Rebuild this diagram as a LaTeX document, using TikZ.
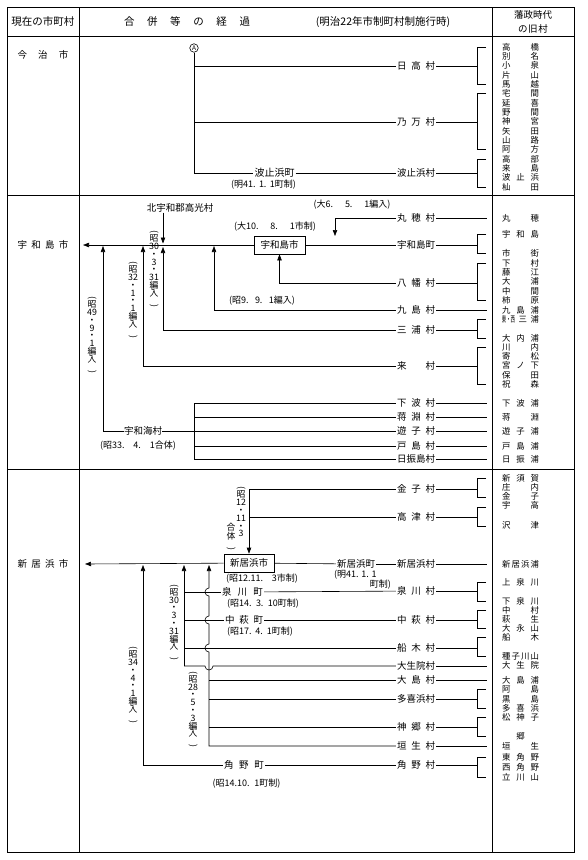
\documentclass[tikz,border=0pt]{standalone}
\usepackage{fontspec}
\setmainfont{Noto Sans CJK JP}
\usepackage{graphicx}
\usetikzlibrary{arrows.meta}
\newcommand{\spreadbox}[2]{\makebox[#1][s]{#2}}
\newcommand{\vop}{\rotatebox{-90}{(}}
\newcommand{\vcl}{\rotatebox{-90}{)}}
\newcommand{\oldrow}[3]{\node[oldv] (#1) at (520.5,#2) {\makebox[37pt][s]{#3}};}
\newcommand{\bracketat}[2]{\draw[ln] (486,#1) -- (477,#1) -- (477,#2) -- (486,#2);}
\tikzset{
  ln/.style={line width=0.6pt},
  frameln/.style={line width=0.8pt},
  arr/.style={ln,-{Triangle[length=6pt,width=4.4pt]}},
  vill/.style={inner sep=0pt, outer sep=1.2pt, font=\fontsize{9.5}{10}\selectfont},
  lab/.style={inner sep=0pt, font=\fontsize{9.5}{10}\selectfont},
  head/.style={inner sep=0pt, font=\fontsize{10.5}{11}\selectfont},
  oldv/.style={inner sep=0pt, font=\fontsize{8.4}{8.4}\selectfont},
  note/.style={inner sep=0pt, font=\fontsize{9}{9}\selectfont},
  vlab/.style={inner sep=0pt, align=center, font=\fontsize{8.8}{7.8}\selectfont},
  cbox/.style={draw, ln, inner sep=0pt, minimum width=51pt, minimum height=18pt, font=\fontsize{9.5}{10}\selectfont},
}
\begin{document}
\begin{tikzpicture}[x=1pt,y=-1pt]
\fill[white] (0,0) rectangle (587,860);
\useasboundingbox (0,0) rectangle (587,860);
% ---------- table frame ----------
\draw[frameln] (7,7) rectangle (574,852);
\draw[frameln] (7,36) -- (574,36);
\draw[frameln] (7,195) -- (574,195);
\draw[frameln] (7,469) -- (574,469);
\draw[frameln] (79,7) -- (79,852);
\draw[frameln] (492,7) -- (492,852);
\coordinate (bx) at (477,0);
\coordinate (sx) at (487,0);
% ---------- header ----------
\node[head] (h1) at (43,22) {現在の市町村};
\node[head] (h2) at (187,22) {\spreadbox{126pt}{合\hfill 併\hfill 等\hfill の\hfill 経\hfill 過}};
\node[head] (h3) at (383,22) {(明治22年市制町村制施行時)};
\node[lab] (h4) at (533,15) {藩政時代};
\node[lab] (h5) at (533,29) {\spreadbox{30pt}{の\hfill 旧\hfill 村}};
% ================= 今治市 =================
\node[lab] (imabari) at (43,55) {\spreadbox{51pt}{今\hfill 治\hfill 市}};
\node[circle,draw,ln,inner sep=0.3pt,minimum size=8.5pt,font=\fontsize{6.5}{6.5}\selectfont] (circA) at (194,48) {A};
\node[vill] (hidaka) at (416,66) {\spreadbox{38pt}{日\hfill 高\hfill 村}};
\node[vill] (noma) at (416,122) {\spreadbox{38pt}{乃\hfill 万\hfill 村}};
\node[vill] (hashimura) at (416,173) {波止浜村};
\node[vill, font=\fontsize{10}{10}\selectfont] (hashicho) at (274.5,173) {波止浜町};
\node[note] (hashinote) at (263.5,185) {\spreadbox{65pt}{(明41.\hfill 1.\hfill 1町制)}};
\coordinate (ta) at (194,66);
\coordinate (tb) at (194,122);
\coordinate (tc) at (194,173);
\draw[ln] (circA) -- (tc);
\draw[ln] (ta) -- (hidaka);
\draw[ln] (tb) -- (noma);
\draw[ln] (tc) -- (hashicho);
\draw[ln] (hashicho) -- (hashimura);
\draw[ln] (hidaka) -- (hidaka -| bx);
\draw[ln] (noma) -- (noma -| bx);
\draw[ln] (hashimura) -- (hashimura -| bx);
\bracketat{47}{84.3}
\bracketat{93.7}{149.7}
\bracketat{159}{187}
\oldrow{oi0}{47}{高\hfill 橋}
\oldrow{oi1}{56.3}{別\hfill 名}
\oldrow{oi2}{65.7}{小\hfill 泉}
\oldrow{oi3}{75}{片\hfill 山}
\oldrow{oi4}{84.3}{馬\hfill 越}
\oldrow{oi5}{93.7}{宅\hfill 間}
\oldrow{oi6}{103}{延\hfill 喜}
\oldrow{oi7}{112.3}{野\hfill 間}
\oldrow{oi8}{121.7}{神\hfill 宮}
\oldrow{oi9}{131}{矢\hfill 田}
\oldrow{oi10}{140.3}{山\hfill 路}
\oldrow{oi11}{149.7}{阿\hfill 方}
\oldrow{oi12}{159}{高\hfill 部}
\oldrow{oi13}{168.3}{来\hfill 島}
\oldrow{oi14}{177.7}{波\hfill 止\hfill 浜}
\oldrow{oi15}{187}{杣\hfill 田}
% ================= 宇和島市 =================
\node[lab] (uwajima) at (43,245) {\spreadbox{51pt}{宇\hfill 和\hfill 島\hfill 市}};
\coordinate (uwaL) at (83,245);
\node[cbox] (uwabox) at (279.5,245) {宇和島市};
\node[note] (uwanote) at (275,227) {\spreadbox{82pt}{(大10.\hfill 8.\hfill 1市制)}};
\draw[arr] (uwabox) -- (uwaL);
\node[vill] (maruho) at (416,218) {\spreadbox{38pt}{丸\hfill 穂\hfill 村}};
\node[vill] (uwacho) at (416,245) {宇和島町};
\node[vill] (yawata) at (416,283) {\spreadbox{38pt}{八\hfill 幡\hfill 村}};
\node[vill] (kushima) at (416,310) {\spreadbox{38pt}{九\hfill 島\hfill 村}};
\node[vill] (miura) at (416,330) {\spreadbox{38pt}{三\hfill 浦\hfill 村}};
\node[vill] (kuru) at (416,366) {\spreadbox{38pt}{来\hfill 村}};
\node[vill] (shitaba) at (416,403) {\spreadbox{38pt}{下\hfill 波\hfill 村}};
\node[vill] (komobuchi) at (416,417) {\spreadbox{38pt}{蒋\hfill 淵\hfill 村}};
\node[vill] (yusu) at (416,431) {\spreadbox{38pt}{遊\hfill 子\hfill 村}};
\node[vill] (toshima) at (416,446) {\spreadbox{38pt}{戸\hfill 島\hfill 村}};
\node[vill] (hiburi) at (416,459) {日振島村};
\node[note] (maruhonote) at (352,205) {\spreadbox{77pt}{(大6.\hfill 5.\hfill 1編入)}};
\coordinate (mh) at (335,236);
\draw[arr] (maruho) -| (mh);
\draw[ln] (uwabox) -- (uwacho);
\draw[arr] (yawata) -| (uwabox.south);
\node[note] (kushimanote) at (262,301) {\spreadbox{66pt}{(昭9.\hfill 9.\hfill 1編入)}};
\coordinate (k9) at (214,246);
\draw[arr] (kushima) -| (k9);
\coordinate (m30) at (163,247);
\draw[arr] (miura) -| (m30);
\node[lab] (takamitsu) at (180,208) {北宇和郡高光村};
\coordinate (tk) at (163,243.5);
\draw[arr] (takamitsu.south -| tk) -- (tk);
\node[vlab] (s30u) at (154,269) {\vop\\昭\\30\\・\\3\\・\\31\\編\\入\\\vcl};
\coordinate (k32) at (143,246);
\draw[arr] (kuru) -| (k32);
\node[vlab] (s32u) at (133,300) {\vop\\昭\\32\\・\\1\\・\\1\\編\\入\\\vcl};
\node[lab] (uwaumi) at (143,431) {宇和海村};
\node[note] (uwauminote) at (138,446) {\spreadbox{76pt}{(昭33.\hfill 4.\hfill 1合体)}};
\coordinate (k49) at (103,246);
\draw[arr] (uwaumi) -| (k49);
\node[vlab] (s49u) at (92,335) {\vop\\昭\\49\\・\\9\\・\\1\\編\\入\\\vcl};
\coordinate (ub1) at (194,403);
\coordinate (ub2) at (194,417);
\coordinate (ub3) at (194,431);
\coordinate (ub4) at (194,446);
\coordinate (ub5) at (194,459);
\draw[ln] (ub1) -- (ub5);
\draw[ln] (uwaumi) -- (ub3);
\draw[ln] (ub1) -- (shitaba);
\draw[ln] (ub2) -- (komobuchi);
\draw[ln] (ub3) -- (yusu);
\draw[ln] (ub4) -- (toshima);
\draw[ln] (ub5) -- (hiburi);
% right side
\draw[ln] (maruho) -- (maruho -| sx);
\draw[ln] (uwacho) -- (uwacho -| bx);
\draw[ln] (yawata) -- (yawata -| bx);
\draw[ln] (kushima) -- (kushima -| sx);
\draw[ln] (miura) -- (miura -| bx);
\draw[ln] (kuru) -- (kuru -| bx);
\draw[ln] (shitaba) -- (shitaba -| sx);
\draw[ln] (komobuchi) -- (komobuchi -| sx);
\draw[ln] (yusu) -- (yusu -| sx);
\draw[ln] (toshima) -- (toshima -| sx);
\draw[ln] (hiburi) -- (hiburi -| sx);
\bracketat{234}{253}
\bracketat{263}{300}
\bracketat{319}{338}
\bracketat{347}{384}
\oldrow{ou0}{218}{丸\hfill 穂}
\oldrow{ou1}{234}{宇\hfill 和\hfill 島}
\oldrow{ou2}{253}{市\hfill 街}
\oldrow{ou3}{263}{下\hfill 村}
\oldrow{ou4}{272}{藤\hfill 江}
\oldrow{ou5}{281.5}{大\hfill 浦}
\oldrow{ou6}{291}{中\hfill 間}
\oldrow{ou7}{300}{柿\hfill 原}
\oldrow{ou8}{310}{九\hfill 島\hfill 浦}
\oldrow{ou9}{319}{\makebox[13pt]{\scalebox{0.52}[1]{東・西}}\hfill 三\hfill 浦}
\oldrow{ou10}{338}{大\hfill 内\hfill 浦}
\oldrow{ou11}{347}{川\hfill 内}
\oldrow{ou12}{356}{寄\hfill 松}
\oldrow{ou13}{365}{宮\hfill ノ\hfill 下}
\oldrow{ou14}{375}{保\hfill 田}
\oldrow{ou15}{384}{祝\hfill 森}
\oldrow{ou16}{403}{下\hfill 波\hfill 浦}
\oldrow{ou17}{417}{蒋\hfill 淵}
\oldrow{ou18}{431}{遊\hfill 子\hfill 浦}
\oldrow{ou19}{446}{戸\hfill 島\hfill 浦}
\oldrow{ou20}{459}{日\hfill 振\hfill 浦}
% ================= 新居浜市 =================
\node[lab] (niihama) at (43,564) {\spreadbox{51pt}{新\hfill 居\hfill 浜\hfill 市}};
\coordinate (niiL) at (85,564);
\node[cbox, minimum width=50pt] (nbox) at (249,563) {新居浜市};
\node[note] (nboxnote) at (262,579) {\spreadbox{72pt}{(昭12.11.\hfill 3市制)}};
\draw[arr] (nbox) -- (niiL);
\node[vill] (kaneko) at (416,489) {\spreadbox{38pt}{金\hfill 子\hfill 村}};
\node[vill] (takatsu) at (416,517) {\spreadbox{38pt}{高\hfill 津\hfill 村}};
\node[vill] (niimura) at (416,564) {新居浜村};
\node[vill] (izumura) at (416,591) {\spreadbox{38pt}{泉\hfill 川\hfill 村}};
\node[vill] (nakamura) at (416,620) {\spreadbox{38pt}{中\hfill 萩\hfill 村}};
\node[vill] (funaki) at (416,648) {\spreadbox{38pt}{船\hfill 木\hfill 村}};
\node[vill] (oubo) at (416,666) {大生院村};
\node[vill] (oshima) at (416,680) {\spreadbox{38pt}{大\hfill 島\hfill 村}};
\node[vill] (takihama) at (416,699) {多喜浜村};
\node[vill] (kango) at (416,727) {\spreadbox{38pt}{神\hfill 郷\hfill 村}};
\node[vill] (habu) at (416,746) {\spreadbox{38pt}{垣\hfill 生\hfill 村}};
\node[vill] (tsunomura) at (416,765) {\spreadbox{38pt}{角\hfill 野\hfill 村}};
% 金子・高津
\coordinate (kt) at (249,517);
\draw[arr] (kaneko) -| (nbox.north);
\draw[ln] (takatsu) -- (kt);
\node[vlab] (s12a) at (241,512) {\vop\\昭\\12\\・\\11\\・\\3};
\node[vlab] (s12b) at (231,537) {合\\体\\\vcl};
% 新居浜町
\node[vill] (niicho) at (356,564) {新居浜町};
\node[note, anchor=west] (niinote1) at (334,574.5) {(明41. 1. 1};
\node[note, anchor=east] (niinote2) at (391,584.5) {町制)};
\draw[ln] (nbox) -- (niicho);
\draw[ln] (niicho) -- (niimura);
% 泉川町・中萩町
\node[vill] (izucho) at (242.5,592) {\spreadbox{41pt}{泉\hfill 川\hfill 町}};
\node[note] (izunote) at (263,604) {\spreadbox{72pt}{(昭14.\hfill 3.\hfill 10町制)}};
\node[vill] (nakacho) at (244,620) {\spreadbox{38pt}{中\hfill 萩\hfill 町}};
\node[note] (nakanote) at (260,632) {\spreadbox{66pt}{(昭17.\hfill 4.\hfill 1町制)}};
\draw[ln] (izucho) -- (izumura);
\draw[ln] (nakacho) -- (nakamura);
\coordinate (a1) at (184,592);
\coordinate (a2) at (184,620);
\coordinate (a3) at (184,648);
\coordinate (a4) at (184,666);
\coordinate (aT) at (184,565);
\draw[ln] (izucho) -- (a1);
\draw[ln] (nakacho) -- (a2);
\draw[ln] (funaki) -- (a3);
\draw[ln] (oubo) -- (213,666) arc[start angle=0, end angle=180, radius=4] -- (a4);
\draw[arr] (a4) -- (aT);
\node[vlab] (s30n) at (174,622.5) {\vop\\昭\\30\\・\\3\\・\\31\\編\\入\\\vcl};
% 昭28 line with hops
\coordinate (bT) at (209,565);
\draw[arr] (habu) -- (209,746) -- (209,652) arc[start angle=90, end angle=270, radius=4]
  -- (209,624) arc[start angle=90, end angle=270, radius=4]
  -- (209,596) arc[start angle=90, end angle=270, radius=4] -- (bT);
\coordinate (b1) at (209,680);
\coordinate (b2) at (209,699);
\coordinate (b3) at (209,727);
\draw[ln] (b1) -- (oshima);
\draw[ln] (b2) -- (takihama);
\draw[ln] (b3) -- (kango);
\node[vlab] (s28n) at (193,709.5) {\vop\\昭\\28\\・\\5\\・\\3\\編\\入\\\vcl};
% 角野町
\node[vill] (tsunocho) at (244,765) {\spreadbox{40pt}{角\hfill 野\hfill 町}};
\node[note] (tsunonote) at (246.5,784) {\spreadbox{68pt}{(昭14.10.\hfill 1町制)}};
\coordinate (cT) at (143,565);
\draw[arr] (tsunocho) -| (cT);
\draw[ln] (tsunocho) -- (tsunomura);
\node[vlab] (s34n) at (133,685) {\vop\\昭\\34\\・\\4\\・\\1\\編\\入\\\vcl};
% right side
\draw[ln] (kaneko) -- (kaneko -| bx);
\draw[ln] (takatsu) -- (takatsu -| bx);
\draw[ln] (niimura) -- (niimura -| sx);
\draw[ln] (izumura) -- (izumura -| bx);
\draw[ln] (nakamura) -- (nakamura -| bx);
\draw[ln] (funaki) -- (funaki -| bx);
\draw[ln] (oubo) -- (oubo -| sx);
\draw[ln] (oshima) -- (oshima -| sx);
\draw[ln] (takihama) -- (takihama -| bx);
\draw[ln] (kango) -- (kango -| bx);
\draw[ln] (habu) -- (habu -| sx);
\draw[ln] (tsunomura) -- (tsunomura -| bx);
\bracketat{478}{497}
\bracketat{507}{526}
\bracketat{582}{601}
\bracketat{610}{628}
\bracketat{637}{656}
\bracketat{689}{708}
\bracketat{717}{736}
\bracketat{757}{777}
\oldrow{on0}{478}{新\hfill 須\hfill 賀}
\oldrow{on1}{487}{庄\hfill 内}
\oldrow{on2}{496}{金\hfill 子}
\oldrow{on3}{505}{宇\hfill 高}
\oldrow{on4}{525}{沢\hfill 津}
\oldrow{on5}{564}{新\hfill 居\hfill 浜\hfill 浦}
\oldrow{on6}{582}{上\hfill 泉\hfill 川}
\oldrow{on7}{601}{下\hfill 泉\hfill 川}
\oldrow{on8}{610}{中\hfill 村}
\oldrow{on9}{619}{萩\hfill 生}
\oldrow{on10}{628}{大\hfill 永\hfill 山}
\oldrow{on11}{637}{船\hfill 木}
\oldrow{on12}{656}{種\hfill 子\hfill 川\hfill 山}
\oldrow{on13}{665}{大\hfill 生\hfill 院}
\oldrow{on14}{680}{大\hfill 島\hfill 浦}
\oldrow{on15}{689}{阿\hfill 島}
\oldrow{on16}{699}{黒\hfill 島}
\oldrow{on17}{708}{多\hfill 喜\hfill 浜}
\oldrow{on18}{717}{松\hfill 神\hfill 子}
\oldrow{on19}{736}{\hfill 郷\hfill}
\oldrow{on20}{746}{垣\hfill 生}
\oldrow{on21}{757}{東\hfill 角\hfill 野}
\oldrow{on22}{767}{西\hfill 角\hfill 野}
\oldrow{on23}{777}{立\hfill 川\hfill 山}
\end{tikzpicture}
\end{document}
